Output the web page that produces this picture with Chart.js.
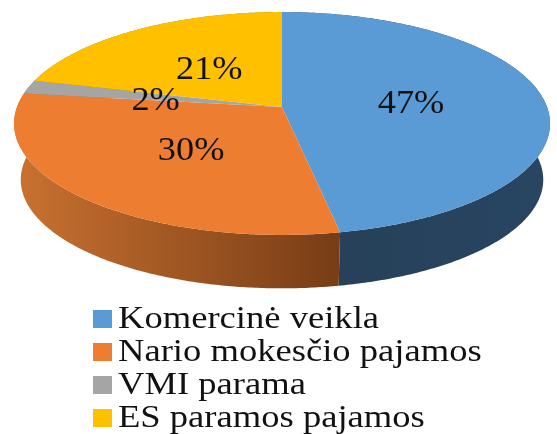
<!DOCTYPE html>
<html>
<head>
<meta charset="utf-8">
<style>
html,body{margin:0;padding:0;background:#fff;}
canvas{display:block;filter:blur(0.65px);}
</style>
<script src="https://cdn.jsdelivr.net/npm/chart.js@4"></script>
</head>
<body>
<canvas id="pie3d" width="557" height="434"></canvas>
<script>
var categories = ['Komercinė veikla', 'Nario mokesčio pajamos', 'VMI parama', 'ES paramos pajamos'];
var shares = [47, 30, 2, 21];
var topColors = ['#5B9BD5', '#ED7D31', '#A5A5A5', '#FFC000'];
var wallLeft = ['#264159', '#C97130', '#6B6B6B', '#A67C00'];
var wallRight = ['#284562', '#773C16', '#6B6B6B', '#A67C00'];

// perspective of the disc, fitted by eye to the picture
var tilt = 0.4113, persp = -0.148;
var depth = 56.6, bottomScale = 0.975;
var labelNudge = [[-2, 2], [5, 2], [2, 4], [4, 4]];

function project(el, angle, frac, drop, scale){
	var x = Math.cos(angle) * frac, y = Math.sin(angle) * frac;
	var w = 1 + persp * y, r = el.outerRadius * scale;
	return {x: el.x + r * x / w, y: el.y + drop + r * tilt * y / w};
}

function rimPath(ctx, el, from, to, drop, scale, first){
	var n = Math.max(2, Math.ceil(Math.abs(to - from) / 0.01));
	for(var i = 0; i <= n; i++){
		var p = project(el, from + (to - from) * i / n, 1, drop, scale);
		if(i == 0 && first) ctx.moveTo(p.x, p.y); else ctx.lineTo(p.x, p.y);
	}
}

var pie3d = {
	id: 'pie3d',
	beforeDatasetsDraw: function(chart){
		var ctx = chart.ctx;
		var arcs = chart.getDatasetMeta(0).data;
		ctx.save();
		// walls, back slices first so the front seam stays sharp
		[3, 2, 0, 1].forEach(function(i){
			var el = arcs[i];
			var g = ctx.createLinearGradient(el.x - el.outerRadius, 0, el.x + 60, 0);
			if(i == 0) g = ctx.createLinearGradient(el.x + 60, 0, el.x + el.outerRadius, 0);
			g.addColorStop(0, wallLeft[i]);
			g.addColorStop(1, wallRight[i]);
			ctx.beginPath();
			rimPath(ctx, el, el.startAngle, el.endAngle, 0, 1, true);
			rimPath(ctx, el, el.endAngle, el.startAngle, depth, bottomScale, false);
			ctx.closePath();
			ctx.fillStyle = g;
			ctx.fill();
		});
		// top face
		arcs.forEach(function(el, i){
			ctx.beginPath();
			ctx.moveTo(el.x, el.y);
			rimPath(ctx, el, el.startAngle, el.endAngle, 0, 1, false);
			ctx.closePath();
			ctx.fillStyle = topColors[i];
			ctx.fill();
		});
		ctx.restore();
		return false;
	},
	afterDraw: function(chart){
		var ctx = chart.ctx;
		var arcs = chart.getDatasetMeta(0).data;
		ctx.save();
		ctx.fillStyle = '#111';
		ctx.textAlign = 'center';
		ctx.textBaseline = 'middle';
		ctx.font = '33px "Liberation Serif"';
		arcs.forEach(function(el, i){
			var p = project(el, (el.startAngle + el.endAngle) / 2, 0.5, 0, 1);
			ctx.save();
			ctx.translate(p.x + labelNudge[i][0], p.y + labelNudge[i][1]);
			ctx.scale(1.1, 1);
			ctx.fillText(shares[i] + '%', 0, 0);
			ctx.restore();
		});
		ctx.restore();

		// legend, one row per category
		var items = chart.options.plugins.legend.labels.generateLabels(chart);
		ctx.save();
		ctx.textBaseline = 'middle';
		ctx.font = '31px "Liberation Serif"';
		items.forEach(function(it, i){
			var rowY = 320 + i * 33;
			ctx.fillStyle = it.fillStyle;
			ctx.fillRect(93, rowY - 10, 19, 18);
			ctx.fillStyle = '#111';
			ctx.save();
			ctx.translate(118, rowY);
			ctx.scale(1.18, 1);
			ctx.fillText(it.text, 0, 0);
			ctx.restore();
		});
		ctx.restore();
	}
};

new Chart(document.getElementById('pie3d'), {
	type: 'pie',
	data: {
		labels: categories,
		datasets: [{data: shares, backgroundColor: topColors, borderWidth: 0}]
	},
	options: {
		responsive: false,
		animation: false,
		radius: 265,
		layout: {padding: {left: 7, right: 0, top: 0, bottom: 220}},
		plugins: {legend: {display: false}, tooltip: {enabled: false}}
	},
	plugins: [pie3d]
});
</script>
</body>
</html>
